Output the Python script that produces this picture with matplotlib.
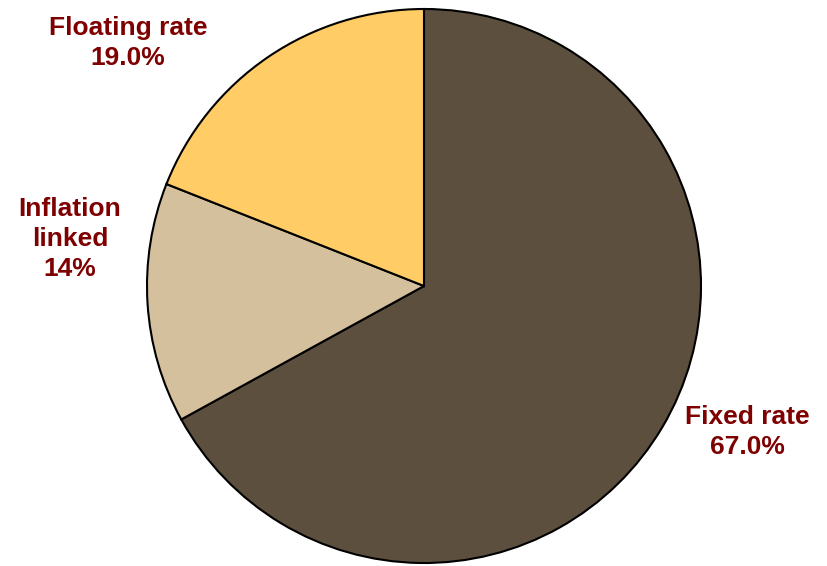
import matplotlib.pyplot as plt

# slice data, clockwise from 12 o'clock
categories = ['Fixed rate', 'Inflation\nlinked', 'Floating rate']
shares = [67.0, 14.0, 19.0]
pct_labels = ['67.0%', '14%', '19.0%']
colors = ['#5C4F3E', '#D4C09C', '#FFCC66']

# label centres in pixels (x, y from top)
label_px = [(747, 432), (70, 239), (128, 43)]

W, H = 828, 566
cx, cy, r = 424, 286, 277

fig = plt.figure(figsize=(W / 100, H / 100), dpi=100)
ax = fig.add_axes([0, 0, 1, 1])
ax.pie(shares, colors=colors, startangle=90, counterclock=False,
       radius=1, center=(0, 0),
       wedgeprops=dict(edgecolor='black', linewidth=1.5))

ax.set_xlim(-cx / r, (W - cx) / r)
ax.set_ylim(-(H - cy) / r, cy / r)
ax.set_aspect('auto')
ax.axis('off')

for name, pct, (px, py) in zip(categories, pct_labels, label_px):
    ax.text((px - cx) / r, (cy - py) / r, name + '\n' + pct,
            ha='center', va='center', fontsize=19, fontweight='bold',
            color='#7F0000', family=['Liberation Sans', 'DejaVu Sans'],
            linespacing=1.3)

fig.savefig('out.png', dpi=100)
